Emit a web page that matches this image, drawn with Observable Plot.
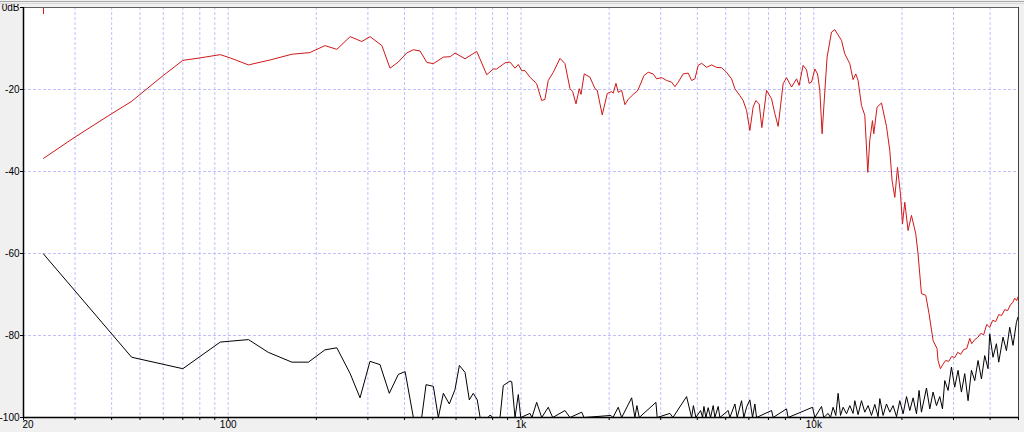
<!DOCTYPE html>
<html>
<head>
<meta charset="utf-8">
<script src="https://cdn.jsdelivr.net/npm/d3@7"></script>
<script src="https://cdn.jsdelivr.net/npm/@observablehq/plot@0.6"></script>
<style>
  html, body { margin: 0; padding: 0; background: #f0f0f0; }
  #chart svg { display: block; }
</style>
</head>
<body>
<div id="chart"></div>
<script>
// Frequency response (red)
const redFreq = [23.4,30,40,46.8,52,60,70,80,94,101.6,117.3,139,165,190,214,235,261,286,305,335,357,381,407,429,452,477,502,543,573,595,644,706,764,804,826,882,917,954,979,1006,1032,1073,1131,1177,1207,1239,1289,1359,1413,1470,1501,1541,1581,1603,1644,1720,1789,1821,1894,1970,2040,2065,2110,2148,2207,2264,2324,2417,2494,2534,2630,2720,2828,2905,3021,3142,3268,3355,3443,3580,3724,3825,3926,4029,4138,4303,4477,4655,4842,5035,5237,5376,5590,5737,5892,6047,6205,6339,6506,6645,6896,7173,7362,7555,7855,8068,8392,8730,8908,9194,9443,9638,9822,10079,10295,10483,10674,10817,11099,11491,11793,12007,12429,12757,13270,13617,13909,14163,14547,14930,15285,15527,15860,16025,16444,17026,17706,18174,18503,18903,19308,19767,20080,20448,20983,21550,22290,22695,23310,24110,24750,25540,26350,26560,27060,27560,28210,28890,29580,30280,31000,31750,32500,33290,34080,34610,35440,36280,37150,38030,38940,39870,40820,41810,42800,43820,44860,45930,47030,47770,48530,49290,49880];
const redDb = [-36.8,-31.6,-25.9,-22.9,-20.2,-16.6,-12.9,-12.3,-11.5,-12.3,-14.0,-12.8,-11.4,-11.0,-9.3,-10.2,-7.1,-8.3,-7.1,-9.3,-14.8,-13.3,-11.1,-10.3,-10.6,-13.4,-13.7,-12.1,-12.0,-11.1,-12.5,-10.7,-16.4,-15.0,-15.0,-13.5,-13.3,-14.8,-13.9,-15.4,-15.4,-17.0,-18.6,-22.7,-22.4,-17.8,-15.8,-12.4,-13.7,-19.8,-20.5,-23.5,-19.8,-21.2,-16.2,-17.0,-19.8,-20.2,-26.2,-21.0,-20.5,-20.9,-18.5,-20.7,-20.2,-23.7,-22.4,-21.2,-20.4,-19.4,-16.6,-15.8,-16.2,-17.4,-17.1,-17.8,-18.2,-19.3,-18.2,-16.2,-16.0,-17.8,-17.4,-14.1,-13.6,-14.6,-14.0,-14.6,-14.7,-15.8,-17.4,-19.8,-21.5,-22.7,-25.1,-30.0,-24.3,-22.7,-23.5,-29.3,-20.2,-22.3,-25.9,-29.0,-18.6,-17.1,-19.4,-17.4,-19.0,-14.1,-15.2,-18.5,-18.2,-15.0,-16.2,-20.2,-30.8,-24.3,-12.1,-6.0,-5.4,-6.3,-8.0,-11.3,-13.7,-17.6,-16.2,-17.8,-23.9,-26.3,-40.2,-32.4,-27.6,-30.8,-24.3,-23.3,-29.0,-34.9,-42.2,-46.3,-39.0,-45.4,-52.8,-47.5,-54.4,-50.7,-55.2,-60.1,-69.8,-70.2,-74.7,-81.2,-83.2,-86.1,-88.1,-87.1,-86.1,-86.3,-85.1,-85.4,-84.1,-84.6,-83.4,-83.2,-80.7,-82.0,-81.0,-80.5,-79.5,-79.8,-77.3,-78.0,-76.3,-76.6,-74.9,-75.1,-73.7,-73.9,-72.4,-72.0,-70.9,-71.5,-70.5];

// Distortion / noise (black)
const blackFreq = [23.4,46.8,70,94,117.3,137,165,188,214,235,261,282,305,330,355,381,402,429,458,474,502,522,543,569,595,616,644,666,687,709,725,772,781,790,799,848,870,917,930,954,979,998,1073,1090,1131,1177,1239,1283,1413,1470,1612,1641,2028,2061,2148,2207,2387,2449,2488,2534,2889,2918,3225,3302,3677,3825,3879,3956,4105,4170,4214,4280,4357,4440,4532,4593,4714,4778,5099,5168,5376,5474,5665,5769,5892,6047,6177,6289,6374,7173,7261,8068,8171,9899,10079,10625,10817,11186,11400,11636,11887,12105,12335,12589,12930,13270,13617,13800,14163,14547,14930,15321,15736,16150,16577,16800,17240,17706,18174,18650,19160,19660,20180,20730,21270,21830,22420,22880,23310,24250,24890,25540,26230,26920,27500,28000,28740,29510,30280,31080,31920,32760,33630,34530,35440,36380,37360,38340,39350,39870,40920,42030,42800,44270,45470,46660,47890,49190,49810];
const blackDb = [-60.1,-85.3,-88.1,-81.6,-81.0,-84.1,-86.5,-86.5,-83.5,-83.0,-89.3,-95.2,-86.3,-87.1,-94.1,-89.5,-88.8,-100,-100,-92.0,-92.4,-100,-94.1,-96.7,-93.2,-87.3,-89.0,-95.7,-94.1,-95.7,-100,-100,-99.5,-99.5,-100,-100,-92.2,-91.1,-91.3,-100,-94.4,-100,-99.0,-100,-96.3,-100,-97.5,-100,-98.3,-100,-98.7,-100,-99.5,-100,-97.5,-100,-95.2,-100,-97.1,-100,-96.3,-100,-99.0,-100,-94.9,-100,-97.1,-100,-98.3,-100,-97.3,-100,-97.6,-100,-97.1,-100,-97.3,-100,-98.3,-100,-96.7,-100,-95.9,-100,-97.5,-95.7,-100,-96.7,-100,-98.3,-100,-97.9,-100,-97.5,-100,-97.3,-100,-99.0,-100,-97.5,-99.5,-94.1,-99.5,-97.5,-99.1,-97.1,-99.0,-95.9,-99.3,-95.9,-98.7,-97.1,-99.5,-96.8,-99.8,-95.4,-99.5,-96.7,-98.7,-97.1,-99.8,-95.9,-99.1,-94.9,-98.3,-95.2,-99.1,-93.4,-98.7,-92.8,-97.9,-93.8,-97.1,-94.9,-97.9,-91.0,-93.4,-87.7,-92.6,-88.5,-93.8,-89.3,-95.9,-88.5,-91.0,-86.1,-90.6,-84.9,-88.1,-79.6,-85.3,-82.0,-86.5,-80.4,-83.7,-78.0,-82.4,-76.8,-75.5];

// Axis ticks and gridlines
const gridFreqs = [30,40,50,60,70,80,90,100,200,300,400,500,600,700,800,900,1000,2000,3000,4000,5000,6000,7000,8000,9000,10000,20000,30000,40000];
const tickFreqs = [20,30,40,50,60,70,80,90,100,200,300,400,500,600,700,800,900,1000,2000,3000,4000,5000,6000,7000,8000,9000,10000,20000,30000,40000,50000];
const gridDb = [-20,-40,-60,-80];
const yTicks = [0,-20,-40,-60,-80,-100];
const yTickLabels = ["0dB","-20","-40","-60","-80","-100"];
const xStartLabelFreq = [20];
const xStartLabel = ["20"];
const xLabelFreqs = [100,1000,10000];
const xLabels = ["100","1k","10k"];
const markerFreq = [23.4];

const red = redFreq.map((f, i) => ({f, db: redDb[i]}));
const black = blackFreq.map((f, i) => ({f, db: blackDb[i]}));
const font = "'Liberation Sans', Arial, sans-serif";

const chart = Plot.plot({
  width: 1024,
  height: 432,
  marginLeft: 23,
  marginRight: 6,
  marginTop: 7,
  marginBottom: 15,
  style: {background: "#f0f0f0", fontFamily: font, fontSize: "10px", color: "#000"},
  x: {type: "log", domain: [20, 50000], label: null},
  y: {domain: [-100, 0], label: null},
  marks: [
    Plot.frame({fill: "#ffffff", stroke: "none"}),
    Plot.ruleX(gridFreqs, {stroke: "#c0c0ff", strokeDasharray: "3,2", strokeWidth: 1}),
    Plot.ruleY(gridDb, {stroke: "#c0c0ff", strokeDasharray: "3,2", strokeWidth: 1}),
    Plot.line(black, {x: "f", y: "db", stroke: "#000000", strokeWidth: 1, clip: true}),
    Plot.line(red, {x: "f", y: "db", stroke: "#d01818", strokeWidth: 1, clip: true}),
    Plot.ruleX(markerFreq, {stroke: "#d01818", strokeWidth: 1, insetBottom: 403}),
    Plot.ruleY([0], {stroke: "#606060", strokeWidth: 1}),
    Plot.ruleX([50000], {stroke: "#404040", strokeWidth: 1}),
    Plot.ruleX([20], {stroke: "#000000", strokeWidth: 1.5}),
    Plot.ruleY([-100], {stroke: "#000000", strokeWidth: 1.5}),
    Plot.axisX(tickFreqs, {tickFormat: () => "", tickSize: 3, stroke: "#000", label: null}),
    Plot.axisY(yTicks, {tickFormat: (d) => yTickLabels[yTicks.indexOf(d)], tickSize: 3, tickPadding: 1, fontSize: "10px", label: null}),
    Plot.text(xStartLabel, {x: xStartLabelFreq, frameAnchor: "bottom", dy: 10, textAnchor: "start", dx: -1, fontSize: "10px", fill: "#000"}),
    Plot.text(xLabels, {x: xLabelFreqs, frameAnchor: "bottom", dy: 10, fontSize: "10px", fill: "#000"})
  ]
});

d3.select(chart).append("line")
  .attr("x1", 0).attr("x2", 1024).attr("y1", 1.5).attr("y2", 1.5)
  .attr("stroke", "#a8a8a8").attr("stroke-width", 1);
d3.select(chart).append("line")
  .attr("x1", 0).attr("x2", 1024).attr("y1", 3.5).attr("y2", 3.5)
  .attr("stroke", "#d8d8d8").attr("stroke-width", 1);

document.getElementById("chart").appendChild(chart);
</script>
</body>
</html>
